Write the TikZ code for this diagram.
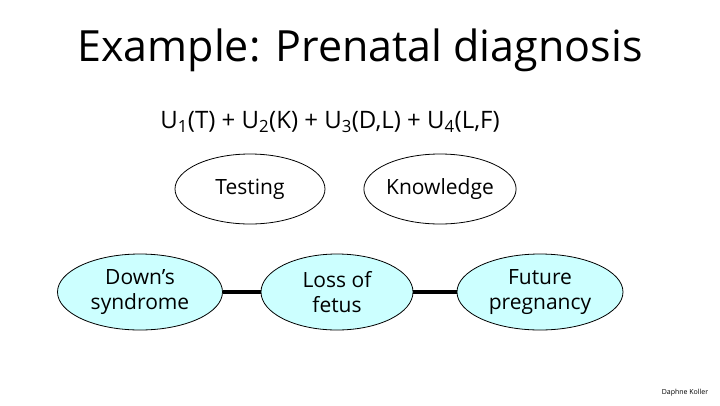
\documentclass[tikz,border=0pt]{standalone}
\usepackage{fontspec}
\setmainfont{Open Sans}
\usetikzlibrary{shapes.geometric}
\definecolor{lcyan}{HTML}{CCFFFF}
\tikzset{
  ev/.style={ellipse,draw=black,line width=0.8pt,minimum width=#1,minimum height=76pt,inner sep=0pt,align=center,font=\fontsize{21}{25}\selectfont},
  chance/.style={ev=#1,fill=lcyan},
  link/.style={line width=3.5pt}
}
\begin{document}
\begin{tikzpicture}[x=1pt,y=-1pt]
\useasboundingbox (0,0) rectangle (720,405);
\node (title) at (360,50) {\fontsize{43}{49}\selectfont Example: Prenatal diagnosis};
\node (util) at (330,122) {\fontsize{24}{28}\selectfont U\textsubscript{1}(T) + U\textsubscript{2}(K) + U\textsubscript{3}(D,L) + U\textsubscript{4}(L,F)};
\node[ev=150pt,minimum height=70pt] (t) at (250,189) {Testing};
\node[ev=150pt,minimum height=70pt] (k) at (440,189) {Knowledge};
\node[chance=165pt] (d) at (140,292) {Down’s\\syndrome};
\node[chance=152pt] (l) at (337,292) {Loss of\\fetus};
\node[chance=166pt] (f) at (540,292) {Future\\pregnancy};
\draw[link] (d) -- (l);
\draw[link] (l) -- (f);
\node (credit) at (685,393) {\fontsize{7}{8}\selectfont Daphne Koller};
\end{tikzpicture}
\end{document}
